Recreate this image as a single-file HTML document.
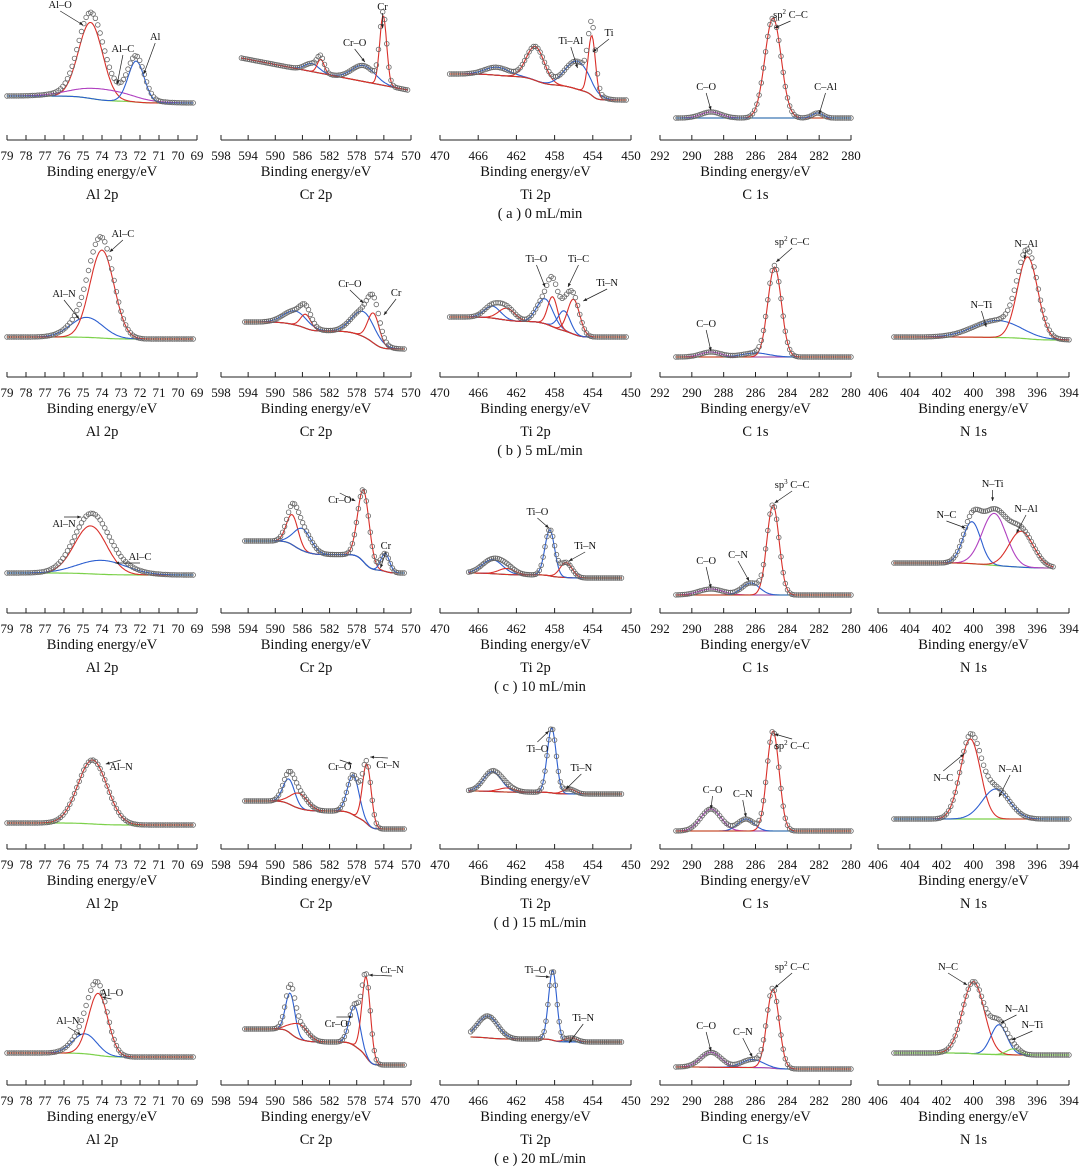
<!DOCTYPE html>
<html><head><meta charset="utf-8"><style>
html,body{margin:0;padding:0;background:#fff}
svg{display:block}
text{font-family:"Liberation Serif",serif;fill:#111}
</style></head><body>
<svg id="fig" width="1080" height="1167" viewBox="0 0 1080 1167" xmlns="http://www.w3.org/2000/svg"></svg>
<script>
// ---- column axis definitions (energy ticks) ----
const colNames = ['Al 2p','Cr 2p','Ti 2p','C 1s','N 1s'];
const colEleft = [79,598,470,292,406];
const colEright = [69,570,450,280,394];
const colStep = [1,4,4,2,2];
const rowCaptions = ['( a ) 0  mL/min','( b ) 5 mL/min','( c ) 10 mL/min','( d ) 15 mL/min','( e ) 20 mL/min'];

// ---- data per panel: peaks [center eV, height, fwhm], background [left,right,linear], data range ----
const a_Al_peaks=[[74.6,76,1.5],[74.0,11,3.5],[72.2,41,1.0]]; const a_Al_bg=[44,37,0]; const a_Al_rng=[79,69.2];
const a_Cr_peaks=[[584.6,8,2.5],[583.3,14,1.2],[577,16,4],[574.1,70,1.2]]; const a_Cr_bg=[82,50,1]; const a_Cr_rng=[595,570.5];
const a_Ti_peaks=[[464,8,3],[460,34,2.2],[455.6,28,3],[454.1,60,0.9]]; const a_Ti_bg=[66,40,0]; const a_Ti_rng=[469,450.5];
const a_C_peaks=[[288.8,6,1.5],[284.9,100,1.2],[282.1,5,0.8]]; const a_C_bg=[22,22,1]; const a_C_rng=[291,280];

const b_Al_peaks=[[74.8,20,2],[74.0,88,1.5]]; const b_Al_bg=[40,38,0]; const b_Al_rng=[79,69.2];
const b_Cr_peaks=[[587,14,4],[585.5,14,1.8],[577,25,4],[575.5,30,2]]; const b_Cr_bg=[55,28,0]; const b_Cr_rng=[594.5,571];
const b_Ti_peaks=[[464.5,12,2],[463,12,2],[459,25,2],[458.2,30,1.2],[457,20,1.5],[456,35,1.5]]; const b_Ti_bg=[60,40,0]; const b_Ti_rng=[469,450.5];
const b_C_peaks=[[288.8,5,1.5],[286,4,2],[284.8,90,1.0]]; const b_C_bg=[20,20,1]; const b_C_rng=[291,280];
const b_N_peaks=[[398.5,17,3.5],[396.6,82,1.5]]; const b_N_bg=[40,37,0]; const b_N_rng=[405,394];

const c_Al_peaks=[[74.6,48,2],[74.0,14,3]]; const c_Al_bg=[40,38,0]; const c_Al_rng=[79,69.2];
const c_Cr_peaks=[[587.5,30,2],[586,22,3],[577,72,2],[573.8,18,1.5]]; const c_Cr_bg=[72,40,0]; const c_Cr_rng=[594.5,571];
const c_Ti_peaks=[[464.5,14,2.5],[463,6,2],[458.5,46,1.2],[456.8,15,1.5]]; const c_Ti_bg=[40,35,0]; const c_Ti_rng=[467,451];
const c_C_peaks=[[288.8,6,1.8],[286.3,12,1.3],[284.9,90,0.9]]; const c_C_bg=[18,18,1]; const c_C_rng=[291,280];
const c_N_peaks=[[400.1,42,1.3],[398.7,52,1.8],[397,36,1.8]]; const c_N_bg=[50,45,0]; const c_N_rng=[405,395];

const d_Al_peaks=[[74.5,64,1.8]]; const d_Al_bg=[26,24,0]; const d_Al_rng=[79,69.2];
const d_Cr_peaks=[[588,25,2],[586.5,15,3],[578.5,40,2],[576.5,60,1.5]]; const d_Cr_bg=[48,20,0]; const d_Cr_rng=[594.5,571];
const d_Ti_peaks=[[464.5,20,2.2],[463,4,2],[458.3,65,1.1],[456.5,5,1.5]]; const d_Ti_bg=[58,55,0]; const d_Ti_rng=[467,451];
const d_C_peaks=[[288.8,22,1.5],[286.6,12,1.2],[284.9,100,0.9]]; const d_C_bg=[18,18,1]; const d_C_rng=[291,280];
const d_N_peaks=[[400.2,80,1.5],[398.6,30,2]]; const d_N_bg=[30,30,1]; const d_N_rng=[405,394];

const e_Al_peaks=[[74.9,20,1.5],[74.2,62,1.2]]; const e_Al_bg=[32,28,0]; const e_Al_rng=[79,69.2];
const e_Cr_peaks=[[587.8,40,1.6],[586.5,15,3],[578.3,40,1.8],[576.6,80,1.5]]; const e_Cr_bg=[56,20,0]; const e_Cr_rng=[594.5,571];
const e_Ti_peaks=[[465,22,2.5],[458.2,70,1.0],[456.3,4,1.5]]; const e_Ti_bg=[48,43,0]; const e_Ti_rng=[466.8,451];
const e_C_peaks=[[288.8,15,1.5],[286.2,8,1.6],[284.9,79,0.9]]; const e_C_bg=[18,16,0]; const e_C_rng=[291,280];
const e_N_peaks=[[400,72,1.6],[398.4,30,1.2],[397.5,6,1.0]]; const e_N_bg=[32,30,0]; const e_N_rng=[405,394];

// ---- annotations [text, labelE, labelH, arrowE, arrowH] ----
const a_Al_lab=[['Al–O',76.2,132,75.0,115],['Al–C',72.9,88,73.2,56],['Al',71.2,100,71.8,66]];
const a_Cr_lab=[['Cr',574.2,130,574.2,112],['Cr–O',578.3,94,576.8,78]];
const a_Ti_lab=[['Ti–Al',456.3,96,455.6,72],['Ti',452.3,104,454,88]];
const a_C_lab=[['C–O',289.1,50,288.8,30],['sp2 C–C',283.8,122,284.8,112],['C–Al',281.6,50,282,26]];
const b_Al_lab=[['Al–N',76.0,80,75.2,58],['Al–C',72.9,140,73.6,125]];
const b_Cr_lab=[['Cr–O',579,90,577,74],['Cr',572.2,81,574,62]];
const b_Ti_lab=[['Ti–O',459.9,115,459,90],['Ti–C',455.5,115,456.6,90],['Ti–N',452.5,91,455,76]];
const b_C_lab=[['C–O',289.1,50,288.8,26],['sp2 C–C',283.7,132,284.7,115]];
const b_N_lab=[['N–Ti',399.5,69,399.2,50],['N–Al',396.7,130,396.8,118]];
const c_Al_lab=[['Al–N',76,86,75.1,96],['Al–C',72,53,73.3,50]];
const c_Cr_lab=[['Cr–O',580.5,110,578.2,112],['Cr',573.7,64,574.5,45]];
const c_Ti_lab=[['Ti–O',459.8,98,458.6,85],['Ti–N',454.8,64,456.5,52]];
const c_C_lab=[['C–O',289.1,49,288.8,25],['C–N',287.1,55,286.4,32],['sp3 C–C',283.7,125,284.8,110]];
const c_N_lab=[['N–C',401.7,95,400.5,85],['N–Ti',398.8,126,398.8,112],['N–Al',396.7,101,397.3,80]];
const d_Al_lab=[['Al–N',73,79,73.8,85]];
const d_Cr_lab=[['Cr–O',580.5,79,578.7,85],['Cr–N',573.4,81,576,92]];
const d_Ti_lab=[['Ti–O',459.8,97,458.6,118],['Ti–N',455.2,78,456.8,60]];
const d_C_lab=[['C–O',288.7,56,288.8,40],['C–N',286.8,52,286.6,32],['sp2 C–C',283.7,100,284.8,115]];
const d_N_lab=[['N–C',401.9,68,400.6,95],['N–Al',397.7,77,398.4,52]];
const e_Al_lab=[['Al–N',75.8,61,75.1,50],['Al–O',73.5,89,74,88]];
const e_Cr_lab=[['Cr–O',581,58,578.6,68],['Cr–N',572.8,112,576.2,110]];
const e_Ti_lab=[['Ti–O',460,112,458.5,108],['Ti–N',455,64,456.5,42]];
const e_C_lab=[['C–O',289.1,56,288.8,34],['C–N',286.8,50,286.2,28],['sp2 C–C',283.7,115,284.8,97]];
const e_N_lab=[['N–C',401.6,115,400.4,100],['N–Al',397.3,73,398.3,62],['N–Ti',396.3,57,397.6,45]];

const DATA = {
a:[[a_Al_peaks,a_Al_bg,a_Al_rng,a_Al_lab],[a_Cr_peaks,a_Cr_bg,a_Cr_rng,a_Cr_lab],[a_Ti_peaks,a_Ti_bg,a_Ti_rng,a_Ti_lab],[a_C_peaks,a_C_bg,a_C_rng,a_C_lab]],
b:[[b_Al_peaks,b_Al_bg,b_Al_rng,b_Al_lab],[b_Cr_peaks,b_Cr_bg,b_Cr_rng,b_Cr_lab],[b_Ti_peaks,b_Ti_bg,b_Ti_rng,b_Ti_lab],[b_C_peaks,b_C_bg,b_C_rng,b_C_lab],[b_N_peaks,b_N_bg,b_N_rng,b_N_lab]],
c:[[c_Al_peaks,c_Al_bg,c_Al_rng,c_Al_lab],[c_Cr_peaks,c_Cr_bg,c_Cr_rng,c_Cr_lab],[c_Ti_peaks,c_Ti_bg,c_Ti_rng,c_Ti_lab],[c_C_peaks,c_C_bg,c_C_rng,c_C_lab],[c_N_peaks,c_N_bg,c_N_rng,c_N_lab]],
d:[[d_Al_peaks,d_Al_bg,d_Al_rng,d_Al_lab],[d_Cr_peaks,d_Cr_bg,d_Cr_rng,d_Cr_lab],[d_Ti_peaks,d_Ti_bg,d_Ti_rng,d_Ti_lab],[d_C_peaks,d_C_bg,d_C_rng,d_C_lab],[d_N_peaks,d_N_bg,d_N_rng,d_N_lab]],
e:[[e_Al_peaks,e_Al_bg,e_Al_rng,e_Al_lab],[e_Cr_peaks,e_Cr_bg,e_Cr_rng,e_Cr_lab],[e_Ti_peaks,e_Ti_bg,e_Ti_rng,e_Ti_lab],[e_C_peaks,e_C_bg,e_C_rng,e_C_lab],[e_N_peaks,e_N_bg,e_N_rng,e_N_lab]]
};

// ---- layout/style (not data) ----
const colPx = [[7,197],[221,411],[440,631],[660,851],[878,1069]];
const rowAxisY = [140,377,613,849,1085];
const CMAP = {r:'#d9302a',b:'#2d5fd0',p:'#b040c0',g:'#7cd14a'};
const peakColorCodes = {
a:['rpb','brbr','brbr','prb'],
b:['br','brbr','brbrbr','pbr','br'],
c:['rb','rbrb','brbr','pbr','bpr'],
d:['r','brbr','brbr','pbr','rb'],
e:['br','brbr','bbr','pbr','rbg']
};
const NS='http://www.w3.org/2000/svg';
const svg=document.getElementById('fig');
function mk(tag,attrs,parent){const e=document.createElementNS(NS,tag);for(const k in attrs)e.setAttribute(k,attrs[k]);(parent||svg).appendChild(e);return e;}
function gauss(E,p){const d=(E-p[0])/p[2];return p[1]*Math.exp(-2.7726*d*d);}

const rowKeys=['a','b','c','d','e'];
rowKeys.forEach((rk,ri)=>{
  const ay=rowAxisY[ri];
  const rowG=mk('g',{});
  
  
  DATA[rk].forEach((pd,ci)=>{
    const [peaks,bg,rng,labs]=pd;
    const El=colEleft[ci],Er=colEright[ci],x0=colPx[ci][0],x1=colPx[ci][1];
    const xs=E=>x0+(El-E)/(El-Er)*(x1-x0);
    const ys=h=>ay-h;
    const g=mk('g',{},rowG);
    
    
    const ax=mk('line',{x1:x0,y1:ay,x2:x1,y2:ay,stroke:'#222','stroke-width':1},g);
    
    
    for(let E=El;E>=Er-1e-6;E-=colStep[ci]){
      const x=xs(E);
      const t=mk('line',{x1:x,y1:ay,x2:x,y2:ay-5,stroke:'#222','stroke-width':1},g);
      
      
      const tl=mk('text',{x:x,y:ay+20,'font-size':13,'text-anchor':'middle'},g);
      tl.textContent=Math.round(E);
      
      
    }
    const xt=mk('text',{x:(x0+x1)/2,y:ay+36,'font-size':14.5,'text-anchor':'middle'},g);
    xt.textContent='Binding energy/eV';
    
    
    const pn=mk('text',{x:(x0+x1)/2,y:ay+59,'font-size':14.5,'text-anchor':'middle'},g);
    pn.textContent=colNames[ci];
    
    
    const N=160,Es=[];
    for(let i=0;i<=N;i++)Es.push(rng[0]+(rng[1]-rng[0])*i/N);
    const tot=Es.map(E=>peaks.reduce((s,p)=>s+gauss(E,p),0));
    let bgv;
    if(bg[2]){bgv=Es.map((E,i)=>bg[0]+(bg[1]-bg[0])*i/N);}
    else{
      const cum=[];let s=0;
      for(let i=N;i>=0;i--){s+=tot[i];cum[i]=s;}
      bgv=Es.map((E,i)=>bg[1]+(bg[0]-bg[1])*cum[i]/s);
    }
    const path=vals=>vals.map((v,i)=>(i?'L':'M')+xs(Es[i]).toFixed(1)+' '+ys(v).toFixed(1)).join('');
    const bgp=mk('path',{d:path(bgv),fill:'none',stroke:'#7cd14a','stroke-width':1.2},g);
    
    
    const codes=peakColorCodes[rk][ci];
    peaks.forEach((p,k)=>{
      const pp=mk('path',{d:path(Es.map((E,i)=>bgv[i]+gauss(E,p))),fill:'none',stroke:CMAP[codes[k]]||'#d9302a','stroke-width':1.1},g);
      
      
    });
    for(let i=0;i<=N;i+=2){
      const c=mk('circle',{cx:xs(Es[i]).toFixed(1),cy:ys(bgv[i]+tot[i]).toFixed(1),r:2.3,fill:'none',stroke:'#666','stroke-width':0.8},g);
      
      
    }
    labs.forEach(l=>{
      const lx=xs(l[1]),ly=ys(l[2]),tx=xs(l[3]),ty=ys(l[4]);
      const t=mk('text',{x:lx,y:ly,'font-size':10.5,'text-anchor':'middle'},g);
      if(l[0].startsWith('sp')){
        t.appendChild(document.createTextNode('sp'));
        const s=mk('tspan',{'font-size':7,dy:-4},t);s.textContent=l[0][2];
        const r=mk('tspan',{dy:4},t);r.textContent=' '+l[0].slice(4);
      } else t.textContent=l[0];
      
      
      const sy=ly+(ty>ly?3:-10);
      const a=mk('line',{x1:lx,y1:sy,x2:tx,y2:ty,stroke:'#222','stroke-width':0.7},g);
      
      
      const ang=Math.atan2(ty-sy,tx-lx);
      const h1=[tx-4*Math.cos(ang-0.4),ty-4*Math.sin(ang-0.4)],h2=[tx-4*Math.cos(ang+0.4),ty-4*Math.sin(ang+0.4)];
      const ah=mk('path',{d:`M${tx} ${ty}L${h1[0]} ${h1[1]}L${h2[0]} ${h2[1]}Z`,fill:'#222'},g);
      
      
    });
  });
  const cap=mk('text',{x:540,y:ay+78,'font-size':14.5,'text-anchor':'middle'},rowG);
  cap.textContent=rowCaptions[ri];
  
  
});
</script>
</body></html>
